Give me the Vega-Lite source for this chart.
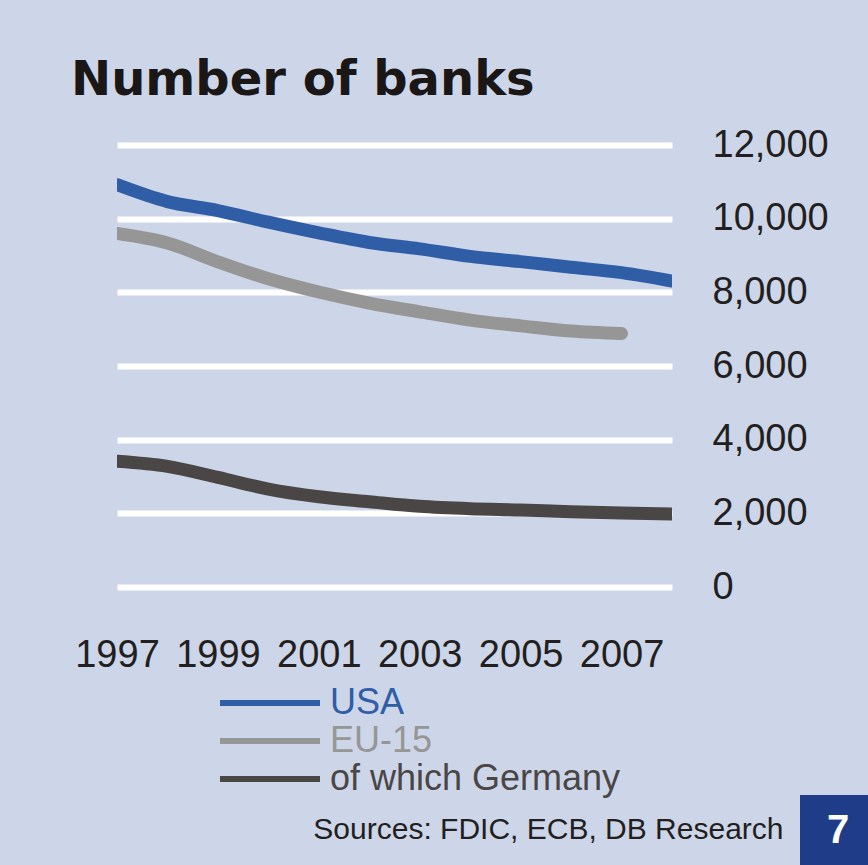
{
  "$schema": "https://vega.github.io/schema/vega-lite/v6.json",
  "width": 555,
  "height": 442,
  "autosize": {"type": "none"},
  "padding": {"left": 117, "top": 145, "right": 196, "bottom": 278},
  "background": "#cdd6e8",
  "title": {
    "text": "Number of banks",
    "anchor": "start",
    "frame": "group",
    "font": "DejaVu Sans",
    "fontSize": 48,
    "fontWeight": "bold",
    "color": "#1a1716",
    "baseline": "alphabetic",
    "offset": -17,
    "dx": -46
  },
  "config": {
    "view": {"stroke": null},
    "axis": {"labelFont": "Liberation Sans", "labelFontSize": 38, "labelColor": "#231f20"}
  },
  "layer": [
    {
      "data": {
        "values": [
          {"year": 1997, "region": "USA", "banks": 10923},
          {"year": 1998, "region": "USA", "banks": 10463},
          {"year": 1999, "region": "USA", "banks": 10221},
          {"year": 2000, "region": "USA", "banks": 9904},
          {"year": 2001, "region": "USA", "banks": 9614},
          {"year": 2002, "region": "USA", "banks": 9354},
          {"year": 2003, "region": "USA", "banks": 9181},
          {"year": 2004, "region": "USA", "banks": 8976},
          {"year": 2005, "region": "USA", "banks": 8833},
          {"year": 2006, "region": "USA", "banks": 8680},
          {"year": 2007, "region": "USA", "banks": 8534},
          {"year": 2008, "region": "USA", "banks": 8305},
          {"year": 1997, "region": "EU-15", "banks": 9600},
          {"year": 1998, "region": "EU-15", "banks": 9340},
          {"year": 1999, "region": "EU-15", "banks": 8830},
          {"year": 2000, "region": "EU-15", "banks": 8370},
          {"year": 2001, "region": "EU-15", "banks": 8010},
          {"year": 2002, "region": "EU-15", "banks": 7710},
          {"year": 2003, "region": "EU-15", "banks": 7470},
          {"year": 2004, "region": "EU-15", "banks": 7245},
          {"year": 2005, "region": "EU-15", "banks": 7090},
          {"year": 2006, "region": "EU-15", "banks": 6950},
          {"year": 2007, "region": "EU-15", "banks": 6880},
          {"year": 1997, "region": "of which Germany", "banks": 3414},
          {"year": 1998, "region": "of which Germany", "banks": 3275},
          {"year": 1999, "region": "of which Germany", "banks": 2976},
          {"year": 2000, "region": "of which Germany", "banks": 2659},
          {"year": 2001, "region": "of which Germany", "banks": 2451},
          {"year": 2002, "region": "of which Germany", "banks": 2315},
          {"year": 2003, "region": "of which Germany", "banks": 2190},
          {"year": 2004, "region": "of which Germany", "banks": 2125},
          {"year": 2005, "region": "of which Germany", "banks": 2090},
          {"year": 2006, "region": "of which Germany", "banks": 2044},
          {"year": 2007, "region": "of which Germany", "banks": 2008},
          {"year": 2008, "region": "of which Germany", "banks": 1981}
        ]
      },
      "mark": {"type": "line", "strokeWidth": 13, "interpolate": "monotone", "clip": true, "strokeCap": "round"},
      "encoding": {
        "x": {
          "field": "year",
          "type": "quantitative",
          "scale": {"domain": [1997, 2008], "nice": false, "zero": false},
          "axis": {
            "values": [1997, 1999, 2001, 2003, 2005, 2007],
            "format": "d",
            "grid": false,
            "domain": false,
            "ticks": false,
            "labelOverlap": false,
            "labelFlush": false,
            "labelPadding": 49,
            "labelBaseline": "top",
            "title": "Sources: FDIC, ECB, DB Research",
            "titleFont": "Liberation Sans",
            "titleFontSize": 30,
            "titleFontWeight": "normal",
            "titleColor": "#231f20",
            "titleAnchor": "end",
            "titleAlign": "right",
            "titleBaseline": "alphabetic",
            "titleX": 666,
            "titleY": 251
          }
        },
        "y": {
          "field": "banks",
          "type": "quantitative",
          "scale": {"domain": [0, 12000], "nice": false},
          "axis": {
            "orient": "right",
            "values": [0, 2000, 4000, 6000, 8000, 10000, 12000],
            "format": ",d",
            "grid": true,
            "gridColor": "#ffffff",
            "gridWidth": 6,
            "gridOpacity": 1,
            "domain": false,
            "ticks": false,
            "labelOverlap": false,
            "labelFlush": false,
            "labelPadding": 40,
            "labelAlign": "left",
            "labelBaseline": "middle",
            "title": null
          }
        },
        "color": {
          "field": "region",
          "type": "nominal",
          "scale": {"domain": ["USA", "EU-15", "of which Germany"], "range": ["#2f5ea7", "#969696", "#4b4646"]},
          "legend": {
            "orient": "none",
            "legendX": 135,
            "legendY": 540,
            "title": null,
            "padding": 0,
            "symbolType": "M-5,0H5",
            "symbolSize": 400,
            "symbolStrokeWidth": 6,
            "labelFont": "Liberation Sans",
            "labelFontSize": 36,
            "labelOffset": 42,
            "labelLimit": 600,
            "rowPadding": 2,
            "encode": {"labels": {"update": {"fill": {"scale": "color", "field": "value"}}}}
          }
        }
      }
    },
    {
      "data": {"values": [{"page": "7"}]},
      "transform": [{"filter": "datum.page === 'none'"}],
      "mark": {"type": "square", "opacity": 1},
      "encoding": {
        "fill": {
          "field": "page",
          "type": "nominal",
          "scale": {"domain": ["7"], "range": ["#1f3c88"]},
          "legend": {
            "orient": "none",
            "legendX": 683,
            "legendY": 650,
            "title": null,
            "padding": 0,
            "symbolType": "square",
            "symbolSize": 5184,
            "symbolStrokeWidth": 0,
            "symbolOpacity": 1,
            "labelColor": "#ffffff",
            "labelFont": "Liberation Sans",
            "labelFontSize": 40,
            "labelFontWeight": "bold",
            "labelAlign": "center",
            "labelOffset": -34
          }
        }
      }
    }
  ]
}
